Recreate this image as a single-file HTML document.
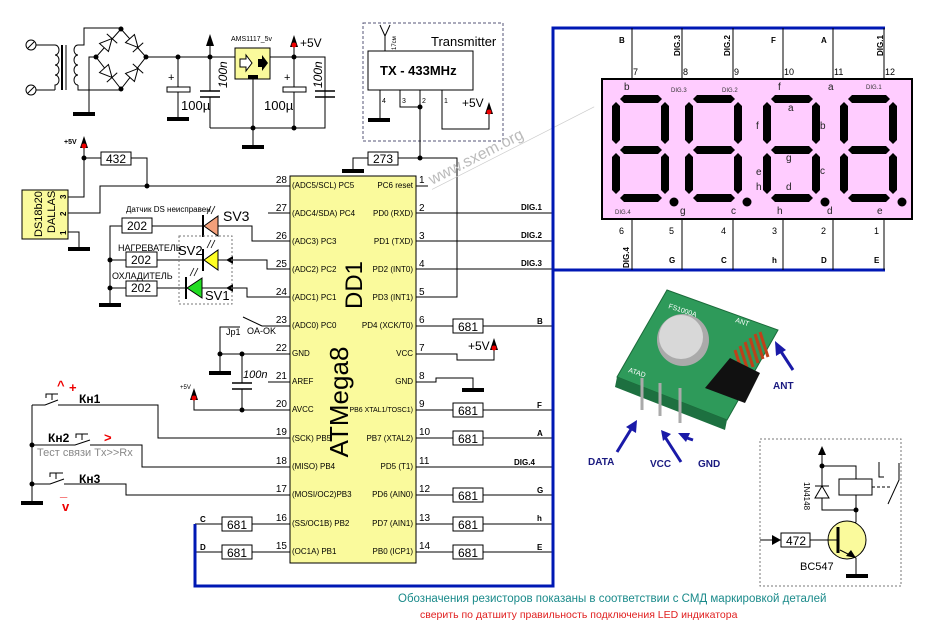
<!DOCTYPE html>
<html><head><meta charset="utf-8"><style>
html,body{margin:0;padding:0;background:#fff}
svg{display:block}
text{font-family:"Liberation Sans",sans-serif}
</style></head><body>
<svg width="935" height="643" viewBox="0 0 935 643" xmlns="http://www.w3.org/2000/svg">
<defs>
<g id="gnd"><rect x="-11" y="-2" width="22" height="4" fill="#000"/></g>
<g id="p5"><polygon points="0,-10 -4,2 4,2" fill="#000"/><circle cx="0" cy="0" r="2.5" fill="#e00"/></g>
<g id="dig" fill="#000">
<polygon points="8,4 12,0 46,0 50,4 46,8 12,8"/>
<polygon points="8,55 12,51 46,51 50,55 46,59 12,59"/>
<polygon points="8,103 12,99 46,99 50,103 46,107 12,107"/>
<polygon points="4,7 8,11 8,45 4,49 0,45 0,11"/>
<polygon points="4,58 8,62 8,95 4,99 0,95 0,62"/>
<polygon points="53,7 57,11 57,45 53,49 49,45 49,11"/>
<polygon points="53,58 57,62 57,95 53,99 49,95 49,62"/>
<circle cx="62" cy="107" r="4.5"/>
</g>
<g id="diode"><polygon points="-6,-6 6,0 -6,6" fill="#fff" stroke="#000"/><line x1="6" y1="-7" x2="6" y2="7" stroke="#000"/></g>
</defs>

<g stroke="#000" stroke-width="1" fill="none">
<circle cx="31" cy="45" r="5"/><circle cx="31" cy="90" r="5"/>
<line x1="28" y1="48" x2="34" y2="42"/><line x1="28" y1="93" x2="34" y2="87"/>
<path d="M36,45 H55 M36,90 H55"/>
<path d="M55,45 a4,5 0 0 1 0,10 a4,5 0 0 1 0,10 a4,5 0 0 1 0,10 a4,5 0 0 1 0,10 V90"/>
<line x1="62" y1="45" x2="62" y2="90" stroke-width="2"/><line x1="66" y1="45" x2="66" y2="90"/>
<path d="M78,45 a4,5 0 0 0 0,10 a4,5 0 0 0 0,10 a4,5 0 0 0 0,10 a4,5 0 0 0 0,10"/>
<path d="M78,45 H84 V28 H121"/>
<path d="M78,85 V90 H121"/>
<path d="M96,57 H89 V114"/>
<path d="M121,29 L96,57 L121,89 L146,57 Z"/>
<path d="M146,57 H325 V128 H210"/>
<path d="M178,57 V87 M178,92 V119"/>
<path d="M210,57 V91 M210,97 V128"/>
<path d="M210,57 V40"/>
<path d="M253,79 V147"/>
<path d="M294,57 V87 M294,92 V128"/>
<path d="M325,57 V91 M325,97 V128"/>
<path d="M294,57 V42"/>
</g>
<g transform="translate(108,43) rotate(-48)"><use href="#diode"/></g>
<g transform="translate(134,43) rotate(48)"><use href="#diode"/></g>
<g transform="translate(108,73) rotate(48)"><use href="#diode"/></g>
<g transform="translate(134,73) rotate(-48)"><use href="#diode"/></g>
<g fill="#000">
<circle cx="121" cy="29" r="2.5"/><circle cx="96" cy="57" r="2.5"/><circle cx="121" cy="89" r="2.5"/><circle cx="146" cy="57" r="2.5"/>
<circle cx="178" cy="57" r="2.5"/><circle cx="210" cy="57" r="2.5"/><circle cx="294" cy="57" r="2.5"/><circle cx="294" cy="128" r="2.5"/><circle cx="253" cy="128" r="2.5"/>
</g>
<use href="#gnd" x="84" y="114"/><use href="#gnd" x="178" y="119"/><use href="#gnd" x="253" y="147"/>
<rect x="167" y="87" width="23" height="5" fill="#fff" stroke="#000"/>
<rect x="283" y="87" width="23" height="5" fill="#fff" stroke="#000"/>
<g stroke="#000" stroke-width="1.5"><line x1="200" y1="91" x2="220" y2="91"/><line x1="200" y1="97" x2="220" y2="97"/><line x1="315" y1="91" x2="335" y2="91"/><line x1="315" y1="97" x2="335" y2="97"/></g>
<polygon points="210,34 206,46 214,46" fill="#000"/>
<use href="#p5" x="294" y="45"/>
<text x="168" y="81" font-size="11">+</text><text x="284" y="81" font-size="11">+</text>
<text x="181" y="110" font-size="13">100µ</text><text x="264" y="110" font-size="13">100µ</text>
<text transform="translate(227,88) rotate(-90)" font-size="12" font-style="italic">100n</text>
<text transform="translate(322,88) rotate(-90)" font-size="12" font-style="italic">100n</text>
<rect x="235" y="48" width="35" height="31" fill="#fafa9c" stroke="#000"/>
<polygon points="240,59 246,59 246,55 252,63 246,71 246,67 240,67" fill="#fff" stroke="#000"/>
<polygon points="258,59 262,59 262,55 268,63 262,71 262,67 258,67" fill="#000"/>
<rect x="248" y="75" width="10" height="4" fill="#000"/>
<text x="231" y="41" font-size="7">AMS1117_5v</text>
<text x="300" y="47" font-size="12">+5V</text>

<rect x="363" y="23" width="140" height="118" fill="none" stroke="#557" stroke-dasharray="3,2"/>
<g stroke="#000" fill="none">
<path d="M385,51 V36 M385,36 L380,25 M385,36 L390,25"/>
<rect x="368" y="51" width="105" height="39"/>
<path d="M380,90 V120"/>
<path d="M400,90 V107 H420"/>
<path d="M420,90 V158"/>
<path d="M442,90 V129 H489 V108"/>
<path d="M398,158 H457 V297 H416"/>
<path d="M416,186 H428"/>
<path d="M368,158 H353 V171"/>
<rect x="368" y="152" width="30" height="13" fill="#fff"/>
</g>
<text transform="translate(396,50) rotate(-90)" font-size="6">17см</text>
<text x="431" y="46" font-size="13">Transmitter</text>
<text x="380" y="75" font-size="13" font-weight="bold">TX - 433MHz</text>
<text x="382" y="103" font-size="7">4</text><text x="402" y="103" font-size="7">3</text><text x="422" y="103" font-size="7">2</text><text x="444" y="103" font-size="7">1</text>
<text x="462" y="107" font-size="12">+5V</text>
<use href="#p5" x="489" y="112"/>
<use href="#gnd" x="379" y="120"/><use href="#gnd" x="353" y="171"/>
<circle cx="420" cy="107" r="2.5"/><circle cx="420" cy="158" r="2.5"/>
<text x="373" y="163" font-size="12">273</text>
<g transform="translate(432,185) rotate(-27)"><text font-size="16" fill="#bbb">www.sxem.org</text><line x1="-2" y1="4" x2="180" y2="4" stroke="#ccc" stroke-width="0.7"/></g>

<rect x="22" y="190" width="46" height="49" fill="#fafa9c" stroke="#000"/>
<text transform="translate(42,237) rotate(-90)" font-size="11">DS18b20</text>
<text transform="translate(55,233) rotate(-90)" font-size="11">DALLAS</text>
<text transform="translate(66,199) rotate(-90)" font-size="8" font-weight="bold">3</text>
<text transform="translate(66,216) rotate(-90)" font-size="8" font-weight="bold">2</text>
<text transform="translate(66,235) rotate(-90)" font-size="8" font-weight="bold">1</text>
<g stroke="#000" fill="none">
<path d="M68,197 H84 V148"/>
<path d="M84,158 H101 M131,158 H147 V186"/>
<rect x="101" y="152" width="30" height="13"/>
<path d="M68,213 H100 V186 H290"/>
<path d="M68,232 H79 V249"/>
<path d="M268,213 H290"/>
<path d="M122,226 H110 V305"/>
<path d="M152,226 H203 M218,226 H252 V241 H290"/>
<path d="M110,260 H126 M157,260 H203 M218,260 H267 V269 H290"/>
<path d="M110,288 H126 M157,288 H186 M202,288 H247 V297 H290"/>
<rect x="122" y="218" width="30" height="15" fill="#fff"/>
<rect x="126" y="252" width="31" height="15" fill="#fff"/>
<rect x="126" y="281" width="31" height="15" fill="#fff"/>
</g>
<text x="64" y="144" font-size="7" font-weight="bold">+5V</text>
<use href="#p5" x="84" y="146"/>
<text x="106" y="163" font-size="12">432</text>
<circle cx="84" cy="158" r="2.5"/><circle cx="147" cy="186" r="2.5"/>
<use href="#gnd" x="79" y="249"/><use href="#gnd" x="110" y="305"/>
<circle cx="110" cy="260" r="2.5"/><circle cx="110" cy="288" r="2.5"/>
<text x="127" y="230" font-size="12">202</text><text x="131" y="264" font-size="12">202</text><text x="131" y="292" font-size="12">202</text>
<polygon points="204,226 218,216 218,236" fill="#f4a07a" stroke="#000"/><line x1="203" y1="215" x2="203" y2="237" stroke="#000" stroke-width="2"/>
<polygon points="204,260 218,250 218,270" fill="#ffff22" stroke="#000"/><line x1="203" y1="249" x2="203" y2="271" stroke="#000" stroke-width="2"/>
<polygon points="187,288 202,278 202,298" fill="#22dd22" stroke="#000"/><line x1="186" y1="277" x2="186" y2="299" stroke="#000" stroke-width="2"/>
<polygon points="226,260 233,256 233,264" fill="#000"/><polygon points="226,288 233,284 233,292" fill="#000"/>
<g stroke="#000" stroke-width="0.8"><path d="M207,214 l4,-8 M211,214 l4,-8 M207,248 l4,-8 M211,248 l4,-8 M190,276 l4,-8 M194,276 l4,-8"/></g>
<rect x="179" y="236" width="53" height="68" fill="none" stroke="#777" stroke-dasharray="2,2"/>
<text x="126" y="212" font-size="8">Датчик DS неисправен</text>
<text x="223" y="221" font-size="14">SV3</text>
<text x="118" y="251" font-size="9">НАГРЕВАТЕЛЬ</text>
<text x="178" y="255" font-size="13">SV2</text>
<text x="112" y="279" font-size="9">ОХЛАДИТЕЛЬ</text>
<text x="205" y="300" font-size="13">SV1</text>

<rect x="290" y="176" width="126" height="387" fill="#fafa9c" stroke="#000"/>
<text transform="translate(362,285) rotate(-90)" font-size="24" text-anchor="middle">DD1</text>
<text transform="translate(348,402) rotate(-90)" font-size="26" text-anchor="middle">ATMega8</text>
<g font-size="8">
<text x="292" y="188">(ADC5/SCL) PC5</text><text x="292" y="216">(ADC4/SDA) PC4</text><text x="292" y="244">(ADC3) PC3</text><text x="292" y="272">(ADC2) PC2</text><text x="292" y="300">(ADC1) PC1</text><text x="292" y="328">(ADC0) PC0</text><text x="292" y="356">GND</text><text x="292" y="384">AREF</text><text x="292" y="412">AVCC</text><text x="292" y="441">(SCK) PB5</text><text x="292" y="469">(MISO) PB4</text><text x="292" y="497">(MOSI/OC2)PB3</text><text x="292" y="526">(SS/OC1B) PB2</text><text x="292" y="554">(OC1A) PB1</text>
</g>
<g font-size="8" text-anchor="end">
<text x="413" y="188">PC6 reset</text><text x="413" y="216">PD0 (RXD)</text><text x="413" y="244">PD1 (TXD)</text><text x="413" y="272">PD2 (INT0)</text><text x="413" y="300">PD3 (INT1)</text><text x="413" y="328">PD4 (XCK/T0)</text><text x="413" y="356">VCC</text><text x="413" y="384">GND</text><text x="413" y="412" font-size="7">PB6 XTAL1/TOSC1)</text><text x="413" y="441">PB7 (XTAL2)</text><text x="413" y="469">PD5 (T1)</text><text x="413" y="497">PD6 (AIN0)</text><text x="413" y="526">PD7 (AIN1)</text><text x="413" y="554">PB0 (ICP1)</text>
</g>
<g font-size="10" text-anchor="end">
<text x="287" y="183">28</text><text x="287" y="211">27</text><text x="287" y="239">26</text><text x="287" y="267">25</text><text x="287" y="295">24</text><text x="287" y="323">23</text><text x="287" y="351">22</text><text x="287" y="379">21</text><text x="287" y="407">20</text><text x="287" y="435">19</text><text x="287" y="464">18</text><text x="287" y="492">17</text><text x="287" y="521">16</text><text x="287" y="549">15</text>
</g>
<g font-size="10">
<text x="419" y="183">1</text><text x="419" y="211">2</text><text x="419" y="239">3</text><text x="419" y="267">4</text><text x="419" y="295">5</text><text x="419" y="323">6</text><text x="419" y="351">7</text><text x="419" y="379">8</text><text x="419" y="407">9</text><text x="419" y="435">10</text><text x="419" y="464">11</text><text x="419" y="492">12</text><text x="419" y="521">13</text><text x="419" y="549">14</text>
</g>
<g stroke="#000" fill="none">
<path d="M416,213 H553 M416,241 H553 M416,269 H553 M416,467 H553"/>
<path d="M416,326 H453 M483,326 H553 M416,410 H453 M483,410 H553 M416,438 H453 M483,438 H553 M416,495 H453 M483,495 H553 M416,524 H453 M483,524 H553 M416,552 H453 M483,552 H553"/>
<path d="M416,354 H457 V360 H494 V348"/>
<path d="M416,382 H436 V378 H473 V390"/>
<rect x="453" y="319" width="30" height="14" fill="#fff"/><rect x="453" y="403" width="30" height="14" fill="#fff"/><rect x="453" y="431" width="30" height="14" fill="#fff"/><rect x="453" y="488" width="30" height="14" fill="#fff"/><rect x="453" y="517" width="30" height="14" fill="#fff"/><rect x="453" y="545" width="30" height="14" fill="#fff"/>
<path d="M195,524 H222 M252,524 H290 M195,552 H222 M252,552 H290"/>
<rect x="222" y="517" width="30" height="14" fill="#fff"/><rect x="222" y="545" width="30" height="14" fill="#fff"/>
<path d="M262,326 H290 M262,326 L243,317 M240,327 H220 V354 H290"/>
<path d="M220,354 V373"/>
<path d="M242,354 V383 M242,389 V410"/>
<path d="M268,382 H290"/>
<path d="M194,400 V410 H290"/>
<path d="M32,405 V503"/>
<path d="M32,405 H45 L58,400 M58,405 H158 V438 H290"/>
<path d="M32,445 H75 L90,440 M90,445 H142 V467 H290"/>
<path d="M32,484 H50 L64,479 M64,484 H126 V495 H290"/>
<path d="M46,398 V394 H58 M52,394 V400 M76,438 V434 H88 M82,434 V440 M50,477 V473 H63 M56,473 V479"/>
</g>
<g stroke="#000" stroke-width="1.5"><line x1="232" y1="383" x2="252" y2="383"/><line x1="232" y1="389" x2="252" y2="389"/></g>
<use href="#gnd" x="220" y="373"/><use href="#gnd" x="473" y="390"/><use href="#gnd" x="32" y="503"/>
<use href="#p5" x="494" y="348"/><use href="#p5" x="194" y="398"/>
<circle cx="220" cy="354" r="2.5"/><circle cx="242" cy="354" r="2.5"/><circle cx="242" cy="410" r="2.5"/><circle cx="32" cy="445" r="2.5"/><circle cx="32" cy="484" r="2.5"/>
<g font-size="12"><text x="458" y="331">681</text><text x="458" y="415">681</text><text x="458" y="443">681</text><text x="458" y="500">681</text><text x="458" y="529">681</text><text x="458" y="557">681</text><text x="227" y="529">681</text><text x="227" y="557">681</text></g>
<g font-size="8" font-weight="bold"><text x="521" y="210">DIG.1</text><text x="521" y="238">DIG.2</text><text x="521" y="266">DIG.3</text><text x="514" y="465">DIG.4</text>
<text x="537" y="324">B</text><text x="537" y="408">F</text><text x="537" y="436">A</text><text x="537" y="493">G</text><text x="537" y="521">h</text><text x="537" y="550">E</text>
<text x="200" y="522">C</text><text x="200" y="550">D</text></g>
<text x="468" y="350" font-size="12">+5V</text>
<text x="180" y="389" font-size="6">+5V</text>
<text x="226" y="335" font-size="9">Jp1</text><text x="247" y="334" font-size="9">OA-OK</text>
<text x="243" y="378" font-size="11" font-style="italic">100n</text>
<g font-weight="bold" font-size="12"><text x="79" y="403">Кн1</text><text x="48" y="442">Кн2</text><text x="79" y="483">Кн3</text></g>
<g fill="#e00" font-weight="bold" font-size="13"><text x="57" y="390">^</text><text x="69" y="392">+</text><text x="104" y="442">&gt;</text><text x="60" y="496">_</text><text x="62" y="511">v</text></g>
<text x="37" y="456" font-size="11" fill="#888">Тест связи Tx&gt;&gt;Rx</text>

<path d="M885,28 H553 V586 H195 V524" fill="none" stroke="#0018b4" stroke-width="3"/>
<path d="M553,270 H885" fill="none" stroke="#0018b4" stroke-width="3"/>
<g stroke="#000"><path d="M632,28 V79 M682,28 V79 M733,28 V79 M783,28 V79 M833,28 V79 M884,28 V79 M632,219 V270 M682,219 V270 M733,219 V270 M783,219 V270 M833,219 V270 M884,219 V270"/></g>
<rect x="602" y="79" width="310" height="140" fill="#ffccff" stroke="#000" stroke-width="2"/>
<use href="#dig" x="612" y="95"/><use href="#dig" x="685" y="95"/><use href="#dig" x="763" y="95"/><use href="#dig" x="840" y="95"/>
<g font-size="8" font-weight="bold"><text x="619" y="43">B</text><text x="771" y="43">F</text><text x="821" y="43">A</text>
<text transform="translate(680,56) rotate(-90)">DIG.3</text><text transform="translate(730,56) rotate(-90)">DIG.2</text><text transform="translate(883,56) rotate(-90)">DIG.1</text>
<text x="669" y="263">G</text><text x="721" y="263">C</text><text x="772" y="263">h</text><text x="821" y="263">D</text><text x="874" y="263">E</text>
<text transform="translate(629,268) rotate(-90)">DIG.4</text></g>
<g font-size="9"><text x="633" y="75">7</text><text x="683" y="75">8</text><text x="734" y="75">9</text><text x="784" y="75">10</text><text x="834" y="75">11</text><text x="885" y="75">12</text>
<text x="619" y="234">6</text><text x="669" y="234">5</text><text x="721" y="234">4</text><text x="772" y="234">3</text><text x="821" y="234">2</text><text x="874" y="234">1</text></g>
<g font-size="10" fill="#222"><text x="624" y="90">b</text><text x="778" y="90">f</text><text x="828" y="90">a</text><text x="788" y="111">a</text><text x="756" y="129">f</text><text x="820" y="129">b</text><text x="786" y="161">g</text><text x="756" y="175">e</text><text x="820" y="174">c</text><text x="756" y="190">h</text><text x="786" y="190">d</text>
<text x="680" y="214">g</text><text x="731" y="214">c</text><text x="777" y="214">h</text><text x="827" y="214">d</text><text x="877" y="214">e</text></g>
<g font-size="6" fill="#333"><text x="671" y="92">DIG.3</text><text x="722" y="92">DIG.2</text><text x="866" y="89">DIG.1</text><text x="615" y="214">DIG.4</text></g>

<polygon points="667,290 778,330 727,420 617,377" fill="#2e9a5a" stroke="#1b6a3a"/>
<polygon points="617,377 727,420 725,430 615,387" fill="#1d7040"/>
<circle cx="683" cy="340" r="26" fill="#aaa"/><circle cx="681" cy="337" r="22" fill="#d8d8d8"/>
<g stroke="#c0401a" stroke-width="3"><path d="M735,350 l8,25 M740,346 l8,25 M745,342 l8,25 M750,338 l8,25 M755,334 l8,25 M760,332 l8,25"/></g>
<path d="M705,388 l25,-30 30,15 -15,30 z" fill="#111"/>
<g stroke="#aaa" stroke-width="3"><path d="M642,378 V410 M660,383 V416 M680,388 V423"/></g>
<text x="668" y="308" font-size="7" fill="#fff" transform="rotate(18 668 308)">FS1000A</text>
<text x="735" y="322" font-size="7" fill="#fff" transform="rotate(18 735 322)">ANT</text>
<text x="628" y="372" font-size="7" fill="#fff" transform="rotate(18 628 372)">ATAD</text>
<g stroke="#1a1aa8" stroke-width="3"><path d="M793,370 L778,347 M617,452 L633,426 M681,462 L665,437 M693,440 L684,437"/></g>
<g fill="#1a1aa8"><polygon points="775,341 786,350 776,356"/><polygon points="637,420 636,433 626,427"/><polygon points="661,430 671,434 663,441"/><polygon points="678,433 690,433 686,442"/></g>
<g fill="#1a1a80" font-size="10" font-weight="bold"><text x="773" y="389">ANT</text><text x="588" y="465">DATA</text><text x="650" y="467">VCC</text><text x="698" y="467">GND</text></g>

<rect x="760" y="439" width="141" height="147" fill="none" stroke="#777" stroke-dasharray="2,2"/>
<g stroke="#000" fill="none">
<path d="M822,452 V510 H856 M822,466 H856 V479 M856,495 V522 L848,528"/>
<rect x="839" y="479" width="33" height="16" fill="#fff"/>
<path d="M872,487 H890" stroke-dasharray="3,2"/>
<path d="M879,462 V477 H884 M899,463 V480 L888,504"/>
<circle cx="847" cy="540" r="19" fill="#fafa9c"/>
<path d="M760,540 H781 M810,540 H838"/>
<rect x="781" y="533" width="29" height="14" fill="#fff"/>
<path d="M840,550 L856,558 V575"/>
</g>
<polygon points="822,446 818,455 826,455" fill="#000"/>
<polygon points="822,486 815,498 829,498" fill="#fff" stroke="#000"/><line x1="815" y1="486" x2="829" y2="486" stroke="#000"/>
<line x1="838" y1="527" x2="838" y2="553" stroke="#000" stroke-width="3"/>
<polygon points="856,558 846,556 851,550" fill="#000"/>
<polygon points="781,540 772,535 772,545" fill="#000"/>
<circle cx="822" cy="466" r="2.5"/><circle cx="856" cy="510" r="2.5"/>
<use href="#gnd" x="857" y="576"/>
<text transform="translate(804,482) rotate(90)" font-size="8">1N4148</text>
<text x="786" y="545" font-size="12">472</text>
<text x="800" y="570" font-size="11">BC547</text>

<text x="398" y="602" font-size="11.5" fill="#1a8a8a">Обозначения резисторов показаны в соответствии с СМД маркировкой деталей</text>
<text x="420" y="618" font-size="10.5" fill="#e02020">сверить  по датшиту правильность подключения LED индикатора</text>
</svg>
</body></html>
